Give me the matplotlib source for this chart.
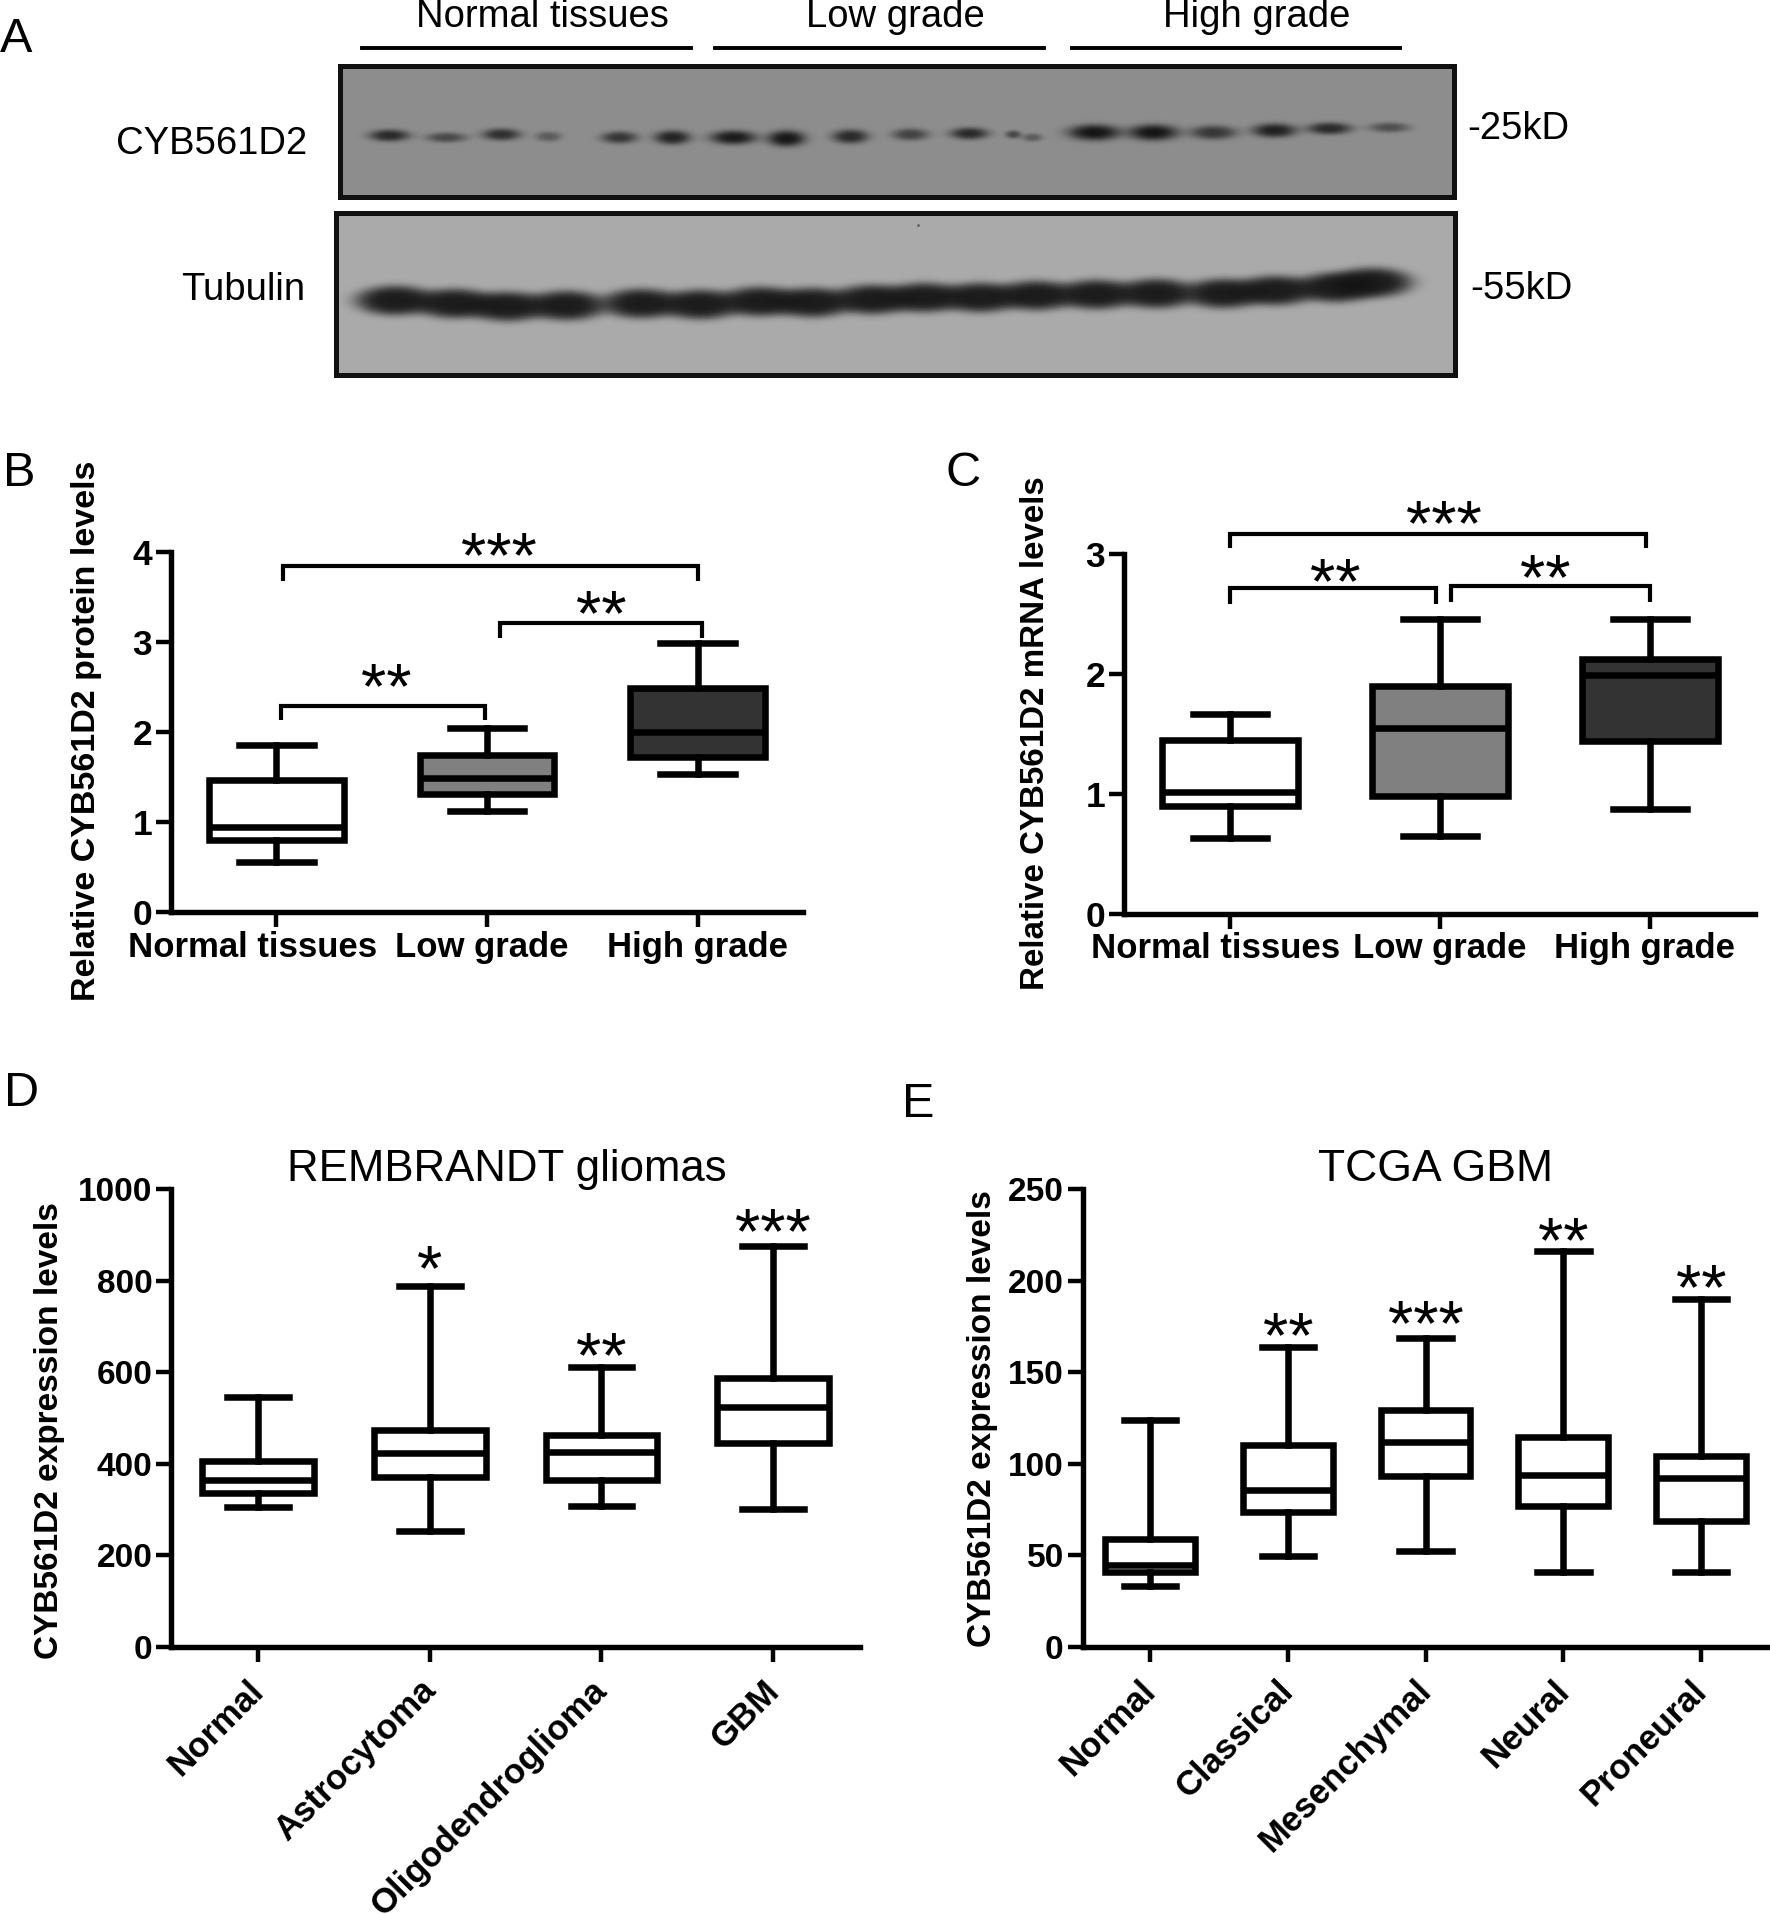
import numpy as np
import matplotlib
matplotlib.use('Agg')
import matplotlib.pyplot as plt
from matplotlib.transforms import ScaledTranslation

plt.rcParams['font.family'] = ['Liberation Sans', 'DejaVu Sans']

W, H = 1770, 1914
fig = plt.figure(figsize=(W / 100, H / 100), dpi=100, facecolor='white')

# panel A bands: x, y, half width, half height, darkness
cyb_x = [389, 446, 501, 548, 619, 672, 733, 786, 850, 910, 969, 1013, 1032, 1094, 1153, 1213, 1274, 1329, 1389]
cyb_y = [135, 137, 134, 136, 137, 137, 137, 138, 136, 134, 133, 134, 137, 132, 132, 132, 130, 128, 127]
cyb_w = [20, 20, 19, 13, 18, 18, 23, 19, 18, 18, 19, 8, 10, 26, 25, 23, 22, 22, 20]
cyb_h = [6, 5, 6, 5, 6, 7, 7, 8, 7, 6, 6, 4, 4, 8, 8, 7, 7, 6, 5]
cyb_d = [.8, .55, .75, .4, .7, .85, .92, .95, .8, .6, .8, .55, .4, .97, .97, .7, .88, .8, .5]
tub_x = [395, 454, 507, 566, 641, 700, 760, 812, 872, 924, 980, 1036, 1096, 1156, 1223, 1275, 1335, 1372]
tub_y = [300, 303, 306, 305, 303, 304, 301, 302, 299, 297, 297, 295, 294, 293, 293, 290, 287, 282]
lane_labels = ['Normal tissues', 'Low grade', 'High grade']
lane_text_x = [542, 895, 1257]
lane_start = [362, 715, 1072]
lane_end = [691, 1044, 1400]

# panel B
groups_bc = ['Normal tissues', 'Low grade', 'High grade']
b_low = [0.56, 1.12, 1.53]
b_q1 = [0.80, 1.31, 1.72]
b_med = [0.95, 1.49, 2.00]
b_q3 = [1.47, 1.74, 2.49]
b_high = [1.86, 2.04, 2.99]
b_brackets = [(0.03, 2.0, 3.84, 3.68), (1.06, 2.02, 3.21, 3.05), (0.02, 0.99, 2.29, 2.13)]
b_stars = [('***', 1.055, 4.07), ('**', 1.54, 3.42), ('**', 0.52, 2.61)]

# panel C
c_low = [0.63, 0.65, 0.87]
c_q1 = [0.90, 0.98, 1.44]
c_med = [1.01, 1.55, 1.99]
c_q3 = [1.45, 1.90, 2.12]
c_high = [1.66, 2.455, 2.455]
c_brackets = [(0.0, 1.98, 3.164, 3.045), (0.0, 0.98, 2.71, 2.58), (1.05, 2.0, 2.73, 2.6)]
c_stars = [('***', 1.02, 3.33), ('**', 0.5, 2.85), ('**', 1.5, 2.88)]

# panel D
d_groups = ['Normal', 'Astrocytoma', 'Oligodendroglioma', 'GBM']
d_low = [305, 252, 307, 300]
d_q1 = [336, 371, 365, 445]
d_med = [365, 423, 425, 523]
d_q3 = [405, 473, 463, 588]
d_high = [546, 788, 612, 875]
d_stars = [('*', 1, 848), ('**', 2, 657), ('***', 3, 927)]

# panel E
e_groups = ['Normal', 'Classical', 'Mesenchymal', 'Neural', 'Proneural']
e_low = [33, 49.4, 52, 41, 41]
e_q1 = [41, 73.5, 93, 77, 68.5]
e_med = [44.5, 85.4, 112, 93.5, 92]
e_q3 = [58.6, 110, 129, 114.6, 104]
e_high = [124, 163.7, 168.5, 216, 190]
e_stars = [('**', 1, 175), ('***', 2, 182), ('**', 3, 227), ('**', 4, 201.5)]


def px_axes(left, top, right, bottom):
    return fig.add_axes([left / W, 1 - bottom / H, (right - left) / W, (bottom - top) / H])


def px_text(x, y, s, **kw):
    fig.text(x / W, 1 - y / H, s, **kw)


def blot(left, top, right, bottom, grey, xs, ys, ws, hs, ds, power):
    ax = px_axes(left, top, right, bottom)
    yy, xx = np.mgrid[top:bottom, left:right]
    keep = np.ones(xx.shape)
    for x, y, w, h, d in zip(xs, ys, ws, hs, ds):
        r = ((xx - x) / w) ** 2 + ((yy - y) / h) ** 2
        keep = keep * (1 - d * np.exp(-r ** power))
    img = 18 + (grey - 18) * keep
    ax.imshow(img, cmap='gray', vmin=0, vmax=255, aspect='auto', interpolation='bilinear')
    ax.set_xticks([])
    ax.set_yticks([])
    for s in ax.spines.values():
        s.set_linewidth(3.6)
        s.set_color('#111111')


def boxes(ax, low, q1, med, q3, high, width, capw, fills):
    stats = []
    for i in range(len(med)):
        stats.append({'whislo': low[i], 'q1': q1[i], 'med': med[i], 'q3': q3[i], 'whishi': high[i], 'fliers': []})
    line = {'color': 'black', 'linewidth': 4.7}
    res = ax.bxp(stats, positions=range(len(med)), widths=width, capwidths=capw, patch_artist=True,
                 showfliers=False, boxprops={'edgecolor': 'black', 'linewidth': 4.7, 'joinstyle': 'miter'},
                 medianprops=line, whiskerprops=line, capprops=line, manage_ticks=False)
    for patch, f in zip(res['boxes'], fills):
        patch.set_facecolor(f)


def style(ax, ylim, yticks, xlim, labels, ysize):
    ax.set_xlim(xlim)
    ax.set_ylim(ylim)
    ax.set_yticks(yticks)
    ax.set_xticks(range(len(labels)))
    ax.set_xticklabels(labels)
    for s in ['top', 'right']:
        ax.spines[s].set_visible(False)
    for s in ['left', 'bottom']:
        ax.spines[s].set_linewidth(3.9)
    ax.tick_params(axis='both', length=10.5, width=3.2)
    ax.tick_params(axis='y', labelsize=ysize, pad=3)
    ax.tick_params(axis='x', labelsize=25, pad=3)
    for lab in ax.get_xticklabels() + ax.get_yticklabels():
        lab.set_fontweight('bold')


def shift_labels(ax, dx, dy):
    # offsets in pixels at dpi 100
    for lab, x in zip(ax.get_xticklabels(), dx):
        lab.set_transform(lab.get_transform() + ScaledTranslation(x / 100, dy / 100, fig.dpi_scale_trans))


def stars(ax, items):
    for s, x, y in items:
        # the asterisk sits high in the em box, so pull the baseline down
        ax.annotate(s, (x, y), xytext=(0, -22.5), textcoords='offset points', ha='center', va='baseline',
                    fontsize=47, annotation_clip=False)


def brackets(ax, items):
    for x0, x1, y, drop in items:
        ax.plot([x0, x0, x1, x1], [drop, y, y, drop], color='black', lw=3, clip_on=False,
                solid_joinstyle='miter', solid_capstyle='butt')


def rotate_labels(ax):
    for lab in ax.get_xticklabels():
        lab.set_rotation(45)
        lab.set_ha('right')
        lab.set_va('top')
        lab.set_rotation_mode('anchor')
    shift_labels(ax, [-11] * len(ax.get_xticks()), -8.5)


# panel A
blot(340, 66, 1454, 197, 141, cyb_x, cyb_y, cyb_w, cyb_h, cyb_d, 1.4)
tub_n = len(tub_x)
blot(336, 213, 1455, 375, 170, tub_x + [918], tub_y + [225], [40] * tub_n + [1.5], [15] * tub_n + [1.5],
     [.93] * tub_n + [.5], 2)
for name, tx, x0, x1 in zip(lane_labels, lane_text_x, lane_start, lane_end):
    px_text(tx, 27, name, fontsize=27.5, ha='center', va='baseline')
    fig.add_artist(plt.Line2D([x0 / W, x1 / W], [1 - 47.5 / H, 1 - 47.5 / H], color='black', lw=2.8))
px_text(307, 154, 'CYB561D2', fontsize=27.5, ha='right', va='baseline')
px_text(305, 300, 'Tubulin', fontsize=27.5, ha='right', va='baseline')
px_text(1467, 139, '-25kD', fontsize=27.5, ha='left', va='baseline')
px_text(1470, 299, '-55kD', fontsize=27.5, ha='left', va='baseline')

fills = ['white', '#808080', '#333333']

# panel B
ax_b = px_axes(171, 552, 803, 912)
boxes(ax_b, b_low, b_q1, b_med, b_q3, b_high, 0.64, 0.356, fills)
style(ax_b, (0, 4), [0, 1, 2, 3, 4], (-0.5, 2.5), groups_bc, 25.5)
shift_labels(ax_b, [-24, -5, 0], 0)
brackets(ax_b, b_brackets)
stars(ax_b, b_stars)
px_text(87, 731, 'Relative CYB561D2 protein levels', fontsize=24.5, fontweight='bold', rotation=90,
        ha='center', va='center')

# panel C
ax_c = px_axes(1124, 553.6, 1755, 913.6)
boxes(ax_c, c_low, c_q1, c_med, c_q3, c_high, 0.647, 0.353, fills)
style(ax_c, (0, 3), [0, 1, 2, 3], (-0.506, 2.5), groups_bc, 25.5)
shift_labels(ax_c, [-15, 0, -6], 0)
brackets(ax_c, c_brackets)
stars(ax_c, c_stars)
px_text(1035, 733, 'Relative CYB561D2 mRNA levels', fontsize=23.9, fontweight='bold', rotation=90,
        ha='center', va='center')

# panel D
ax_d = px_axes(171, 1189, 860, 1646.6)
boxes(ax_d, d_low, d_q1, d_med, d_q3, d_high, 0.65, 0.36, ['white'] * 4)
style(ax_d, (0, 1000), [0, 200, 400, 600, 800, 1000], (-0.507, 3.506), d_groups, 24)
rotate_labels(ax_d)
stars(ax_d, d_stars)
px_text(507, 1181, 'REMBRANDT gliomas', fontsize=31.5, ha='center', va='baseline')
px_text(50, 1431, 'CYB561D2 expression levels', fontsize=24, fontweight='bold', rotation=90,
        ha='center', va='center')

# panel E
ax_e = px_axes(1082.5, 1189, 1770, 1646.6)
boxes(ax_e, e_low, e_q1, e_med, e_q3, e_high, 0.652, 0.38, ['white'] * 5)
style(ax_e, (0, 250), [0, 50, 100, 150, 200, 250], (-0.49, 4.5), e_groups, 24)
rotate_labels(ax_e)
stars(ax_e, e_stars)
px_text(1435, 1181, 'TCGA GBM', fontsize=32, ha='center', va='baseline')
px_text(983, 1419, 'CYB561D2 expression levels', fontsize=24, fontweight='bold', rotation=90,
        ha='center', va='center')

# panel letters
px_text(0, 52, 'A', fontsize=35, va='baseline')
px_text(3, 486, 'B', fontsize=35, va='baseline')
px_text(945, 486, 'C', fontsize=35, va='baseline')
px_text(4, 1106, 'D', fontsize=35, va='baseline')
px_text(902, 1117, 'E', fontsize=35, va='baseline')

fig.savefig('out.png', dpi=100)
